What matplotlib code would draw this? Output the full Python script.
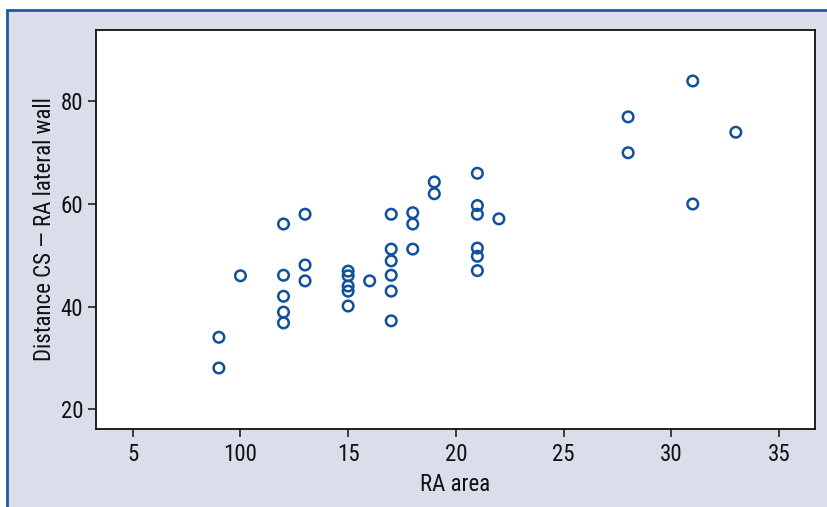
import matplotlib
matplotlib.use("Agg")
import matplotlib.pyplot as plt
from matplotlib import font_manager
from matplotlib.patches import Rectangle

# Data
ra_area = [9, 9, 10, 12, 12, 12, 12, 12, 13, 13, 13,
           15, 15, 15, 15, 15, 16,
           17, 17, 17, 17, 17, 17,
           18, 18, 18, 19, 19,
           21, 21, 21, 21, 21, 21, 22,
           28, 28, 31, 31, 33]
distance = [34.0, 28.0, 46.0, 56.1, 46.1, 42.0, 38.9, 36.8, 58.0, 48.1, 45.0,
            46.9, 46.0, 44.0, 43.0, 40.1, 45.0,
            58.0, 51.2, 48.9, 46.1, 43.0, 37.2,
            58.3, 56.1, 51.2, 64.3, 62.0,
            66.0, 59.7, 58.0, 51.4, 49.8, 47.0, 57.1,
            77.0, 70.0, 84.0, 60.0, 74.0]
x_ticks = [5, 10, 15, 20, 25, 30, 35]
x_tick_labels = ["5", "100", "15", "20", "25", "30", "35"]
y_ticks = [20, 40, 60, 80]
x_label = "RA area"
y_label = "Distance CS \u2014 RA lateral wall"

# Font selection
available = {f.name for f in font_manager.fontManager.ttflist}
family = "DejaVu Sans"
for cand in ["Liberation Sans Narrow", "Roboto Condensed", "Open Sans Condensed", "Roboto", "Liberation Sans"]:
    if cand in available:
        family = cand
        break
plt.rcParams["font.family"] = [family, "DejaVu Sans"]

W, H = 828, 507
fig = plt.figure(figsize=(W / 100, H / 100), dpi=100)
fig.patch.set_facecolor("white")

# outer panel with blue border (background axes)
bax = fig.add_axes([0, 0, 1, 1], zorder=-10)
bax.set_xlim(0, W)
bax.set_ylim(H, 0)
bax.axis("off")
bax.add_patch(Rectangle((7, 10), W + 20, H + 20, facecolor="#dadeeb",
                        edgecolor="#1f5aa6", linewidth=2.0))

left, right, top, bottom = 95.7, 815.3, 30, 429
ax = fig.add_axes([left / W, 1 - bottom / H, (right - left) / W, (bottom - top) / H])
ax.set_facecolor("white")

ax.scatter(ra_area, distance, s=58, facecolors="none", edgecolors="#11509a",
           linewidths=1.8, zorder=3)

ax.set_xlim(3.28, 36.69)
ax.set_ylim(16.1, 93.95)
ax.set_xticks(x_ticks)
ax.set_xticklabels(x_tick_labels)
ax.set_yticks(y_ticks)

fs = 16.5
ax.tick_params(axis="both", direction="out", length=6, width=1.2, color="#222222",
               labelsize=fs, labelcolor="#111111")
ax.tick_params(axis="x", pad=4)
ax.tick_params(axis="y", pad=3)
for s in ax.spines.values():
    s.set_color("#111111")
    s.set_linewidth(1.3)

ax.set_xlabel(x_label, fontsize=fs, color="#111111", labelpad=5)
ax.set_ylabel(y_label, fontsize=fs, color="#111111", labelpad=3)

fig.savefig("out.png", dpi=100, facecolor=fig.get_facecolor())
